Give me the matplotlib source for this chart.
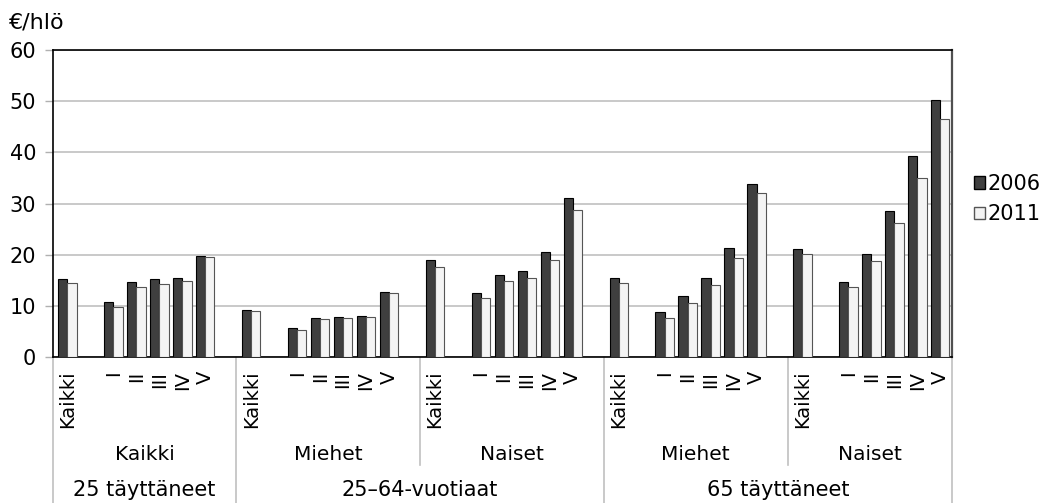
import numpy as np
import matplotlib
matplotlib.use("Agg")
import matplotlib.pyplot as plt
from matplotlib.patches import Patch
import matplotlib.transforms as mtransforms

plt.rcParams['font.family'] = ['DejaVu Sans']

# euros per person, order in each subgroup: Kaikki, I, II, III, IV, V
class_labels = ["Kaikki", "I", "II", "III", "IV", "V"]
sub_labels = ["Kaikki", "Miehet", "Naiset", "Miehet", "Naiset"]
top_labels = ["25 täyttäneet", "25–64-vuotiaat", "65 täyttäneet"]
top_span = [1, 2, 2]

values_2006 = [
    [15.2, 10.7, 14.6, 15.2, 15.5, 19.7],
    [9.2, 5.7, 7.6, 7.8, 8.1, 12.8],
    [18.9, 12.6, 16.0, 16.8, 20.6, 31.1],
    [15.5, 8.8, 12.0, 15.4, 21.4, 33.9],
    [21.1, 14.7, 20.1, 28.6, 39.2, 50.2],
]
values_2011 = [
    [14.4, 9.8, 13.7, 14.3, 14.9, 19.5],
    [8.9, 5.3, 7.5, 7.6, 7.9, 12.6],
    [17.6, 11.6, 14.9, 15.4, 19.0, 28.7],
    [14.5, 7.6, 10.6, 14.1, 19.3, 32.1],
    [20.1, 13.6, 18.8, 26.2, 34.9, 46.6],
]

# slot offsets inside a subgroup (one empty slot after Kaikki and after V)
offsets = np.array([0, 2, 3, 4, 5, 6])
step = 8
x_max = 38.51

fig = plt.figure(figsize=(10.47, 5.03), dpi=100)
ax = fig.add_axes([53 / 1047, 1 - 357 / 503, 899 / 1047, 307 / 503])

w = 0.4
for k in range(len(sub_labels)):
    x = k * step + offsets
    ax.bar(x - w / 2, values_2006[k], w, color='#3f3f3f', edgecolor='black',
           linewidth=0.8, zorder=3)
    ax.bar(x + w / 2, values_2011[k], w, color='#f4f4f4', edgecolor='#555555',
           linewidth=0.8, zorder=3)

ax.set_xlim(-0.63, x_max)
ax.set_ylim(0, 60)
ax.set_yticks(range(0, 61, 10))
ax.tick_params(axis='y', length=6, width=1, color='#b0b0b0', labelsize=15, pad=6)
ax.set_xticks([])
ax.yaxis.grid(True, color='#c0c0c0', linewidth=1.2, zorder=0)
ax.set_axisbelow(True)
for side in ['left', 'top', 'bottom']:
    ax.spines[side].set_color('black')
    ax.spines[side].set_linewidth(1.2)
ax.spines['right'].set_color('#505050')
ax.spines['right'].set_linewidth(1.6)

fig.text(9 / 1047, 1 - 23 / 503, "€/hlö", fontsize=16, va='center', ha='left')

# multi-level category axis
trans = mtransforms.blended_transform_factory(ax.transData, ax.transAxes)
sep_color = '#c0c0c0'
for k in range(len(sub_labels)):
    x = k * step + offsets
    for xi, lab in zip(x, class_labels):
        ax.text(xi, -0.045, lab, rotation=90, ha='center', va='top',
                fontsize=14, transform=trans)
    start = k * step - 0.65
    end = (k + 1) * step - 0.65 if k < len(sub_labels) - 1 else x_max
    ax.text((start + end) / 2, -0.319, sub_labels[k], ha='center', va='center',
            fontsize=14.5, transform=trans)

# separators between subgroups and between top-level groups
edges = [-0.63]
pos = 0
for span in top_span:
    pos += span
    edges.append(pos * step - 0.65 if pos < len(sub_labels) else x_max)

sub_idx = 0
for g, span in enumerate(top_span):
    left, right = edges[g], edges[g + 1]
    ax.text((left + right) / 2, -0.433, top_labels[g], ha='center', va='center',
            fontsize=15, transform=trans)
    for j in range(1, span):
        xs = (sub_idx + j) * step - 0.65
        ax.plot([xs, xs], [0, -0.352], color=sep_color, lw=1.2,
                transform=trans, clip_on=False)
    sub_idx += span

for xs in edges:
    ax.plot([xs, xs], [0, -0.476], color=sep_color, lw=1.2,
            transform=trans, clip_on=False)

handles = [Patch(facecolor='#3f3f3f', edgecolor='black', label='2006'),
           Patch(facecolor='#f4f4f4', edgecolor='#555555', label='2011')]
fig.legend(handles=handles, loc='center left',
           bbox_to_anchor=(974 / 1047, 1 - 199 / 503), frameon=False,
           fontsize=15, handlelength=0.55, handleheight=0.55,
           handletextpad=0.1, labelspacing=0.5, borderpad=0, borderaxespad=0)

fig.savefig("out.png", dpi=100)
